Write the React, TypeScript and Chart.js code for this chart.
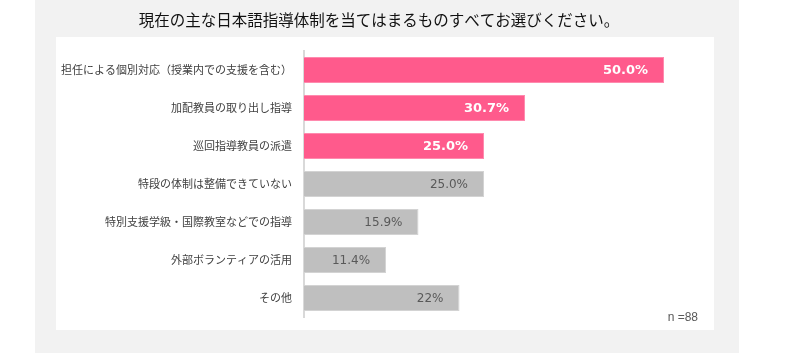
import React, { useEffect, useRef } from "react";
import { Chart, registerables } from "chart.js";

Chart.register(...registerables);

const title = "現在の主な日本語指導体制を当てはまるものすべてお選びください。";
const categories = [
  "担任による個別対応（授業内での支援を含む）",
  "加配教員の取り出し指導",
  "巡回指導教員の派遣",
  "特段の体制は整備できていない",
  "特別支援学級・国際教室などでの指導",
  "外部ボランティアの活用",
  "その他",
];
const values = [50.0, 30.7, 25.0, 25.0, 15.9, 11.4, 21.6];
const valueLabels = ["50.0%", "30.7%", "25.0%", "25.0%", "15.9%", "11.4%", "22%"];
const highlighted = [true, true, true, false, false, false, false];
const sampleNote = "n =88";

const PINK = "#FF5A8C";
const PINK_BORDER = "#FF8AAE";
const GRAY = "#BFBFBF";
const GRAY_BORDER = "#D3D3D3";

const backgroundPlugin = {
  id: "bgPanels",
  beforeDraw(chart: any) {
    const ctx = chart.ctx;
    ctx.save();
    ctx.fillStyle = "#F2F2F2";
    ctx.fillRect(35, 0, 704, 353);
    ctx.fillStyle = "#FFFFFF";
    ctx.fillRect(56, 37, 658, 293);
    ctx.fillStyle = "#111111";
    ctx.font = "15.5px 'Noto Sans CJK JP', sans-serif";
    ctx.textAlign = "center";
    ctx.textBaseline = "middle";
    ctx.fillText(title, 379, 20);
    ctx.restore();
  },
};

const labelPlugin = {
  id: "barLabels",
  afterDatasetsDraw(chart: any) {
    const ctx = chart.ctx;
    const meta = chart.getDatasetMeta(0);
    ctx.save();
    ctx.textAlign = "right";
    ctx.textBaseline = "middle";
    meta.data.forEach((bar: any, i: number) => {
      if (highlighted[i]) {
        ctx.fillStyle = "#FFFFFF";
        ctx.font = "bold 13px 'DejaVu Sans', sans-serif";
      } else {
        ctx.fillStyle = "#595959";
        ctx.font = "12px 'DejaVu Sans', sans-serif";
      }
      ctx.fillText(valueLabels[i], bar.x - 16, bar.y + 1);
    });
    ctx.fillStyle = "#595959";
    ctx.font = "12px 'Liberation Sans', Arial, sans-serif";
    ctx.fillText(sampleNote, 698, 318);
    ctx.restore();
  },
};

export default function App() {
  const ref = useRef<HTMLCanvasElement | null>(null);
  useEffect(() => {
    document.body.style.margin = "0";
    if (!ref.current) return;
    const chart = new Chart(ref.current, {
      type: "bar",
      data: {
        labels: categories,
        datasets: [
          {
            data: values,
            backgroundColor: highlighted.map((h) => (h ? PINK : GRAY)),
            borderColor: highlighted.map((h) => (h ? PINK_BORDER : GRAY_BORDER)),
            borderWidth: 1,
            borderSkipped: "left",
            categoryPercentage: 1,
            barPercentage: 0.68,
          },
        ],
      },
      options: {
        indexAxis: "y",
        animation: false,
        responsive: false,
        maintainAspectRatio: false,
        layout: { padding: { left: 0, right: 100, top: 51, bottom: 36 } },
        plugins: {
          legend: { display: false },
          tooltip: { enabled: false },
          title: { display: false },
        },
        scales: {
          x: {
            display: false,
            min: 0,
            max: 55,
          },
          y: {
            grid: { display: false, drawTicks: false },
            border: { display: true, color: "#D9D9D9", width: 2 },
            ticks: {
              padding: 12,
              color: "#404040",
              font: { family: "'Noto Sans CJK JP', sans-serif", size: 11 },
            },
            afterFit(scale: any) {
              scale.width = 304;
            },
          },
        },
      },
      plugins: [backgroundPlugin, labelPlugin],
    });
    return () => chart.destroy();
  }, []);
  return <canvas ref={ref} width={800} height={353} style={{ display: "block" }} />;
}
